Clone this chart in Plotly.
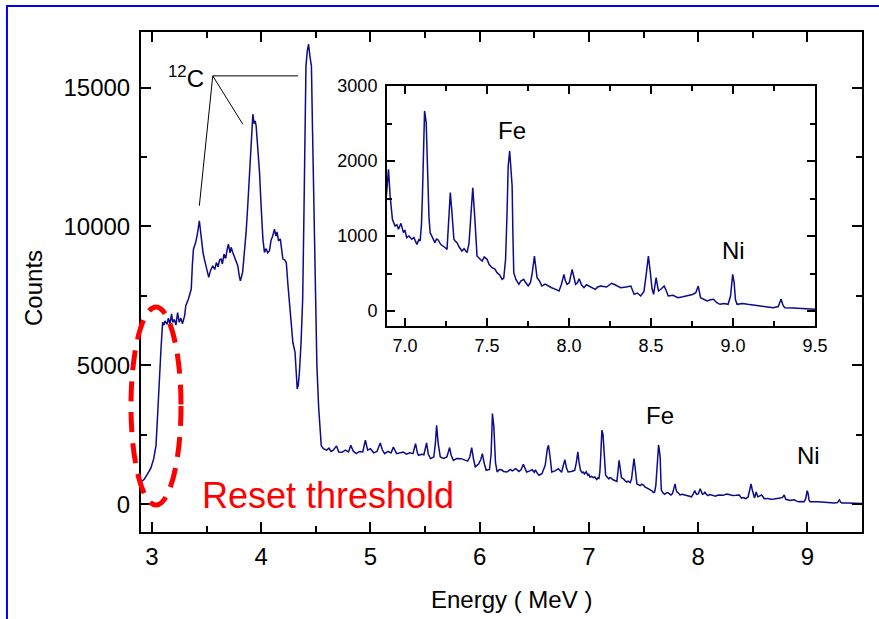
import plotly.graph_objects as go

# ---------------- data ----------------
# reset-threshold rise and plateau
energy_threshold = [2.90, 2.93, 2.96, 2.99, 3.016, 3.037, 3.048, 3.058, 3.07, 3.083,
                    3.098, 3.11, 3.12, 3.14, 3.15, 3.165, 3.18, 3.19, 3.205, 3.22,
                    3.235, 3.25, 3.265, 3.28, 3.30]
counts_threshold = [800, 900, 1090, 1300, 1630, 2110, 2900, 3790, 4700, 5590,
                    6550, 6450, 6600, 6480, 6700, 6500, 6850, 6550, 6650, 6450,
                    6900, 6550, 6700, 6500, 6800]

# 12C region
energy_carbon = [3.31, 3.335, 3.36, 3.37, 3.38, 3.40, 3.415, 3.434, 3.445, 3.456,
                 3.468, 3.48, 3.50, 3.52, 3.535, 3.557, 3.575, 3.59, 3.605, 3.62,
                 3.633, 3.645, 3.66, 3.675, 3.69, 3.70, 3.715, 3.725, 3.74, 3.755,
                 3.77, 3.786, 3.80, 3.81, 3.83, 3.845, 3.862, 3.878, 3.893, 3.91,
                 3.924, 3.935, 3.945, 3.954, 3.97, 3.985, 4.00, 4.016, 4.03, 4.045,
                 4.06, 4.076, 4.09, 4.105, 4.122, 4.135, 4.145, 4.159, 4.175, 4.19,
                 4.199, 4.215, 4.23, 4.245, 4.26, 4.275, 4.29, 4.31, 4.32, 4.33,
                 4.34, 4.35, 4.365, 4.38, 4.39, 4.397, 4.41, 4.422, 4.434, 4.447,
                 4.46, 4.47, 4.48, 4.495, 4.51, 4.526, 4.54, 4.55]
counts_carbon = [7150, 7400, 7745, 8600, 9180, 9420, 9700, 10205, 9800, 9306,
                 9050, 8825, 8500, 8165, 8400, 8585, 8450, 8700, 8550, 8800,
                 8825, 8650, 9000, 8850, 9200, 9365, 9050, 9250, 9065, 8900,
                 8750, 8585, 8200, 8045, 8345, 8900, 9784, 10800, 11824, 13000,
                 14040, 13700, 13800, 13622, 12800, 11943, 10700, 9544, 9065, 9200,
                 9050, 9125, 9500, 9650, 9904, 9650, 9800, 9484, 9550, 9100,
                 8825, 8800, 8700, 7900, 7150, 6450, 5830, 5468, 4800, 4148,
                 4300, 4750, 5800, 7385, 10000, 12770, 15780, 16300, 16560, 16100,
                 15780, 13500, 10980, 8000, 4990, 3500, 2543, 2110]

# flat continuum 4.57 - 6.91 MeV
energy_mid = [4.57, 4.60, 4.62, 4.64, 4.66, 4.69, 4.71, 4.74, 4.77, 4.80,
              4.82, 4.845, 4.87, 4.90, 4.93, 4.954, 4.975, 5.00, 5.03, 5.06,
              5.09, 5.11, 5.13, 5.16, 5.19, 5.21, 5.24, 5.27, 5.30, 5.33,
              5.36, 5.39, 5.413, 5.43, 5.44, 5.47, 5.49, 5.514, 5.53, 5.55,
              5.58, 5.595, 5.606, 5.62, 5.64, 5.67, 5.70, 5.725, 5.74, 5.76,
              5.79, 5.83, 5.86, 5.89, 5.91, 5.927, 5.945, 5.96, 5.99, 6.01,
              6.025, 6.04, 6.06, 6.09, 6.105, 6.117, 6.13, 6.145, 6.16, 6.18,
              6.20, 6.22, 6.25, 6.28, 6.30, 6.33, 6.36, 6.38, 6.40, 6.42,
              6.43, 6.46, 6.48, 6.50, 6.51, 6.53, 6.544, 6.57, 6.60, 6.62,
              6.63, 6.645, 6.66, 6.69, 6.72, 6.75, 6.765, 6.78, 6.795, 6.81,
              6.84, 6.87, 6.885, 6.899, 6.909]
counts_mid = [2003, 1950, 2020, 1900, 1942, 2100, 1880, 1870, 1950, 1880,
              2120, 1900, 1820, 1900, 1880, 2302, 1950, 2000, 1850, 1900,
              2206, 1950, 1820, 1900, 1850, 2060, 1820, 1850, 1880, 1800,
              1850, 1820, 2183, 1850, 1760, 1800, 1780, 2206, 1800, 1643,
              1700, 2200, 2842, 2200, 1700, 1650, 1700, 2040, 1750, 1580,
              1650, 1640, 1600, 1550, 1700, 2040, 1600, 1343, 1450, 1600,
              1823, 1500, 1223, 1250, 1800, 3262, 2800, 1500, 1163, 1250,
              1240, 1180, 1160, 1250, 1200, 1280, 1180, 1250, 1439, 1250,
              1160, 1200, 1240, 1150, 1240, 1100, 1043, 1100, 1400, 2000,
              2122, 1700, 1160, 1200, 1280, 1150, 1400, 1607, 1300, 1160,
              1180, 1220, 1500, 1889, 1533]

# high-energy part (Fe, Ni lines), also shown in the inset
energy_high = [6.923, 6.939, 6.950, 6.960, 6.975, 6.990, 6.999, 7.010, 7.024, 7.041,
               7.054, 7.072, 7.084, 7.092, 7.100, 7.106, 7.113, 7.119, 7.129, 7.139,
               7.146, 7.153, 7.167, 7.182, 7.192, 7.202, 7.217, 7.235, 7.247, 7.256,
               7.265, 7.276, 7.286, 7.298, 7.307, 7.317, 7.331, 7.347, 7.360, 7.378,
               7.390, 7.400, 7.413, 7.426, 7.439, 7.454, 7.470, 7.483, 7.500, 7.513,
               7.531, 7.548, 7.561, 7.577, 7.592, 7.602, 7.613, 7.622, 7.629, 7.638,
               7.646, 7.653, 7.658, 7.663, 7.676, 7.694, 7.706, 7.724, 7.735, 7.751,
               7.765, 7.776, 7.789, 7.797, 7.805, 7.820, 7.834, 7.854, 7.874, 7.894,
               7.919, 7.939, 7.953, 7.969, 7.978, 7.988, 8.002, 8.019, 8.030, 8.040,
               8.052, 8.062, 8.076, 8.091, 8.106, 8.121, 8.141, 8.160, 8.175, 8.193,
               8.229, 8.259, 8.274, 8.298, 8.315, 8.348, 8.377, 8.397, 8.417, 8.437,
               8.457, 8.472, 8.484, 8.496, 8.506, 8.516, 8.531, 8.541, 8.546, 8.565,
               8.580, 8.595, 8.605, 8.634, 8.664, 8.694, 8.723, 8.753, 8.773, 8.788,
               8.802, 8.822, 8.842, 8.862, 8.881, 8.901, 8.921, 8.945, 8.970, 8.985,
               8.998, 9.007, 9.015, 9.025, 9.059, 9.089, 9.128, 9.168, 9.207, 9.246,
               9.276, 9.293, 9.306, 9.316, 9.365, 9.414, 9.464, 9.504]
counts_high = [1222, 1133, 1150, 1089, 1169, 1045, 1080, 978, 1000, 956,
               980, 889, 950, 933, 1150, 1533, 2300, 2667, 2511, 1667,
               1250, 1045, 980, 911, 960, 947, 890, 867, 840, 822,
               1133, 1578, 1311, 956, 930, 911, 850, 800, 830, 778,
               900, 1200, 1644, 1222, 733, 700, 667, 720, 689, 620,
               578, 560, 511, 480, 422, 440, 689, 1300, 1933, 2133,
               1900, 1667, 1000, 511, 420, 356, 400, 422, 380, 333,
               380, 511, 733, 550, 444, 400, 333, 360, 333, 310,
               289, 267, 350, 489, 400, 356, 380, 556, 450, 356,
               380, 431, 350, 311, 350, 333, 310, 289, 320, 333,
               320, 370, 356, 330, 311, 320, 333, 222, 240, 200,
               260, 511, 733, 511, 300, 222, 444, 320, 267, 300,
               333, 260, 200, 210, 178, 190, 200, 220, 244, 333,
               178, 160, 133, 150, 156, 110, 89, 100, 89, 200,
               489, 378, 150, 89, 100, 89, 80, 67, 60, 44,
               60, 156, 70, 44, 40, 31, 25, 22]

main_x_ticks = [3, 4, 5, 6, 7, 8, 9]
main_y_ticks = [0, 5000, 10000, 15000]
inset_x_ticks = [7.0, 7.5, 8.0, 8.5, 9.0, 9.5]
inset_y_ticks = [0, 1000, 2000, 3000]

energy = energy_threshold + energy_carbon + energy_mid + energy_high
counts = counts_threshold + counts_carbon + counts_mid + counts_high
assert len(energy) == len(counts)

# ---------------- figure ----------------
FONT = "Arial, 'Liberation Sans', sans-serif"
LINE = "#0b0b8c"

fig = go.Figure()
fig.add_trace(go.Scatter(x=energy, y=counts, mode="lines",
                         line=dict(color=LINE, width=1.5),
                         xaxis="x", yaxis="y", showlegend=False, hoverinfo="skip"))
fig.add_trace(go.Scatter(x=energy, y=counts, mode="lines",
                         line=dict(color=LINE, width=1.5),
                         xaxis="x2", yaxis="y2", showlegend=False, hoverinfo="skip"))

axis_common = dict(showline=True, linecolor="black", linewidth=2, mirror="ticks",
                   ticks="inside", tickcolor="black", showgrid=False, zeroline=False,
                   automargin=False)

fig.update_layout(
    width=879, height=619,
    margin=dict(l=141, r=17, t=32, b=87),
    paper_bgcolor="white", plot_bgcolor="white",
    font=dict(family=FONT, color="black"),
    xaxis=dict(axis_common, domain=[0, 1], range=[2.9, 9.5], anchor="y",
               tickvals=main_x_ticks, ticklen=10, tickwidth=2, ticklabelstandoff=2,
               minor=dict(ticks="inside", dtick=0.5, tick0=0, ticklen=6, tickwidth=2, tickcolor="black"),
               tickfont=dict(size=24, family=FONT)),
    yaxis=dict(axis_common, domain=[0, 1], range=[-1000, 17000], anchor="x",
               tickvals=main_y_ticks, tickformat="d", ticklen=10, tickwidth=2,
               ticklabelstandoff=4,
               minor=dict(ticks="inside", dtick=2500, tick0=0, ticklen=6, tickwidth=2, tickcolor="black"),
               tickfont=dict(size=24, family=FONT)),
    xaxis2=dict(axis_common, domain=[0.3412, 0.9348], range=[6.89, 9.5], anchor="y2",
                tickvals=inset_x_ticks, tickformat=".1f", ticklen=8, tickwidth=2,
                ticklabelstandoff=2,
                minor=dict(ticks="inside", dtick=0.25, tick0=0, ticklen=5, tickwidth=2, tickcolor="black"),
                tickfont=dict(size=18, family=FONT)),
    yaxis2=dict(axis_common, domain=[0.412, 0.892], range=[-200, 3000], anchor="x2",
                tickvals=inset_y_ticks, tickformat="d", ticklen=8, tickwidth=2,
                ticklabelstandoff=4,
                minor=dict(ticks="inside", dtick=500, tick0=0, ticklen=5, tickwidth=2, tickcolor="black"),
                tickfont=dict(size=18, family=FONT)),
)

annotations = [
    dict(text="Counts", xref="paper", yref="paper", x=-0.1498, y=0.488,
         textangle=-90, showarrow=False, font=dict(size=24, family=FONT),
         xanchor="center", yanchor="middle"),
    dict(text="Energy ( MeV )", xref="paper", yref="paper", x=0.5139, y=-0.134,
         showarrow=False, font=dict(size=24, family=FONT),
         xanchor="center", yanchor="middle"),
    dict(text="Reset threshold", xref="x", yref="y", x=4.61, y=300,
         showarrow=False, font=dict(size=36, family=FONT, color="#ff0000"),
         xanchor="center", yanchor="middle"),
    dict(text="<sup>12</sup>C", xref="x", yref="y", x=3.31, y=15390,
         showarrow=False, font=dict(size=24, family=FONT),
         xanchor="center", yanchor="middle"),
    dict(text="Fe", xref="x", yref="y", x=7.651, y=3200,
         showarrow=False, font=dict(size=24, family=FONT),
         xanchor="center", yanchor="middle"),
    dict(text="Ni", xref="x", yref="y", x=9.01, y=1770,
         showarrow=False, font=dict(size=24, family=FONT),
         xanchor="center", yanchor="middle"),
    dict(text="Fe", xref="x2", yref="y2", x=7.655, y=2410,
         showarrow=False, font=dict(size=24, family=FONT),
         xanchor="center", yanchor="middle"),
    dict(text="Ni", xref="x2", yref="y2", x=9.0, y=813,
         showarrow=False, font=dict(size=24, family=FONT),
         xanchor="center", yanchor="middle"),
]
fig.update_layout(annotations=annotations)

shapes = [
    # 12C pointer lines
    dict(type="line", xref="x", yref="y", x0=3.557, y0=15421, x1=4.337, y1=15421,
         line=dict(color="black", width=1)),
    dict(type="line", xref="x", yref="y", x0=3.557, y0=15421, x1=3.434, y1=10745,
         line=dict(color="black", width=1)),
    dict(type="line", xref="x", yref="y", x0=3.557, y0=15421, x1=3.832, y1=13680,
         line=dict(color="black", width=1)),
    # red dashed ellipse around the threshold
    dict(type="circle", xref="paper", yref="paper", x0=-0.0139, x1=0.0555,
         y0=0.054, y1=0.45, line=dict(color="#ff0000", width=5, dash="20px,11px"),
         layer="above"),
    # blue frame of the picture
    dict(type="rect", xref="paper", yref="paper", x0=-0.1859, x1=1.3,
         y0=-0.5, y1=1.052, line=dict(color="#0000ff", width=2), layer="above"),
]
fig.update_layout(shapes=shapes)

fig.write_html("out.html", config={"displayModeBar": False},
               post_script="document.body.style.margin='0';document.body.style.padding='0';")
